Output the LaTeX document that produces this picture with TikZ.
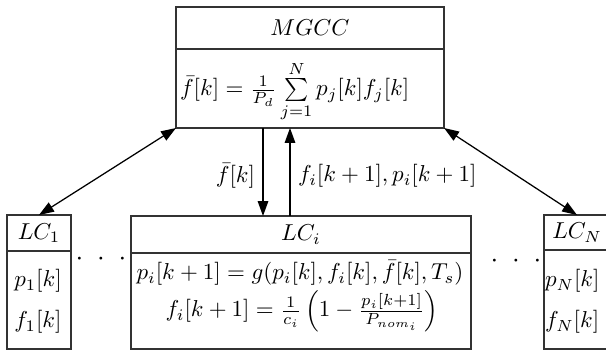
\documentclass[tikz,border=0pt]{standalone}
\usetikzlibrary{arrows.meta,calc}
\def\pu{0.435pt}
\tikzset{
  cell/.style 2 args={draw=black!80, line width=0.6pt, minimum width=#1*\pu, minimum height=#2*\pu, inner sep=0pt, outer sep=0pt},
  arr/.style={line width=0.55pt, -{Triangle[length=6.5pt,width=4.6pt]}},
  darr/.style={line width=0.55pt, {Triangle[length=6.5pt,width=4.6pt]}-{Triangle[length=6.5pt,width=4.6pt]}},
  txt/.style={inner sep=0pt, outer sep=0pt},
  dotstxt/.style={inner sep=0pt, outer sep=0pt, font=\large}
}
\begin{document}
\begin{tikzpicture}[x=\pu, y=-\pu]
\useasboundingbox (0,0) rectangle (606,351);
% MGCC
\node[cell={268}{42}] (mgcct) at (310,28) {$MGCC$};
\node[cell={268}{79}] (mgccb) at (310,88.5) {};
\node[txt, anchor=base west] (mgccf) at (180,96) {$\bar{f}[k] = \frac{1}{P_d}\sum\limits_{j=1}^{N} p_j[k]f_j[k]$};
% LC_1
\node[cell={64}{36}] (lc1t) at (39,233) {$LC_1$};
\node[cell={64}{98}] (lc1b) at (39,300) {};
\node[txt, anchor=base] (lc1p) at (38,287) {$p_1[k]$};
\node[txt, anchor=base] (lc1f) at (38,328) {$f_1[k]$};
% LC_i
\node[cell={340}{37}] (lcit) at (301,234.5) {$LC_i$};
\node[cell={340}{96}] (lcib) at (301,301) {};
\node[txt, anchor=base] (lcip) at (300,280) {$p_i[k+1] = g(p_i[k], f_i[k], \bar{f}[k], T_s)$};
\node[txt, anchor=base] (lcif) at (302,317) {$f_i[k+1] = \frac{1}{c_i}\left(1 - \frac{p_i[k+1]}{P_{nom_i}}\right)$};
% LC_N
\node[cell={66}{35}] (lcNt) at (577,232.5) {$LC_N$};
\node[cell={66}{99}] (lcNb) at (577,299.5) {};
\node[txt, anchor=base west] (lcNp) at (545,287) {$p_N[k]$};
\node[txt, anchor=base west] (lcNf) at (545,328) {$f_N[k]$};
% dots
\node[dotstxt] (dots1) at (101,259) {$\cdot\hspace{3.4pt}\cdot\hspace{3.4pt}\cdot$};
\node[dotstxt] (dots2) at (516,261) {$\cdot\hspace{3.4pt}\cdot\hspace{3.4pt}\cdot$};
% connectors
\draw[darr] (lc1t.north) -- (mgccb.south west);
\draw[darr] (lcNt.north) -- (mgccb.south east);
\draw[arr] ([xshift=-47*\pu]mgccb.south) -- ([xshift=-47*\pu]mgccb.south |- lcit.north);
\draw[arr] ([xshift=-20*\pu]mgccb.south |- lcit.north) -- ([xshift=-20*\pu]mgccb.south);
\node[txt, anchor=east] (lbl1) at (255,176) {$\bar{f}[k]$};
\node[txt, anchor=west] (lbl2) at (298,176) {$f_i[k+1], p_i[k+1]$};
\end{tikzpicture}
\end{document}
